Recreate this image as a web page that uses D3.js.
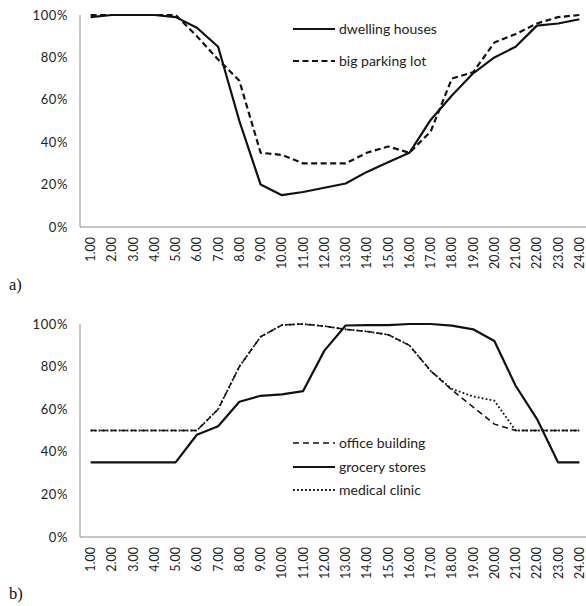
<!DOCTYPE html>
<html>
<head>
<meta charset="utf-8">
<script src="https://cdn.jsdelivr.net/npm/d3@7"></script>
<style>
  html, body { margin: 0; padding: 0; background: #fff; }
  svg { display: block; }
</style>
</head>
<body>
<svg id="chart" width="586" height="606"></svg>
<script>
// Hours of the day (category axis)
const hours = ["1.00","2.00","3.00","4.00","5.00","6.00","7.00","8.00","9.00","10.00","11.00","12.00",
               "13.00","14.00","15.00","16.00","17.00","18.00","19.00","20.00","21.00","22.00","23.00","24.00"];
const yTicks = [0, 20, 40, 60, 80, 100];

// Panel a) occupancy (%)
const dwellingHouses = [99,100,100,100,99,94,85,50,20,15,16.5,18.5,20.5,26,30.5,35,50.5,62,72.5,80,85,95,96,98];
const bigParkingLot  = [100,100,100,100,100,90,79,69,35,34,30,30,30,35,38,35,45,70,73,87,91,96,99,100];

// Panel b) occupancy (%)
const officeBuilding = [50,50,50,50,50,50,60,80,94,99.5,100,99,97.5,96.5,95,90,78,69,61,53,50,50,50,50];
const groceryStores  = [35,35,35,35,35,48,52,63.5,66.3,67,68.5,87.5,99.3,99.5,99.5,100,100,99.2,97.5,92,71,55.5,35,35];
const medicalClinic  = [50,50,50,50,50,50,60,80,94,99.5,100,99,97.5,96.5,95,90,78,69.5,66,64,50,50,50,50];

const svg = d3.select("#chart");
const FONT = "Lato, 'Open Sans', sans-serif";

function panel(cfg) {
  const x = d3.scalePoint().domain(hours).range([80, 590]).padding(0.5);
  const y = d3.scaleLinear().domain([0, 100]).range([cfg.bottom, cfg.top]);
  const g = svg.append("g");

  // axis lines
  g.append("line").attr("x1", 80).attr("x2", 80).attr("y1", cfg.top).attr("y2", cfg.bottom)
    .attr("stroke", "#8c8c8c").attr("stroke-width", 1);
  g.append("line").attr("x1", 80).attr("x2", 590).attr("y1", cfg.bottom).attr("y2", cfg.bottom)
    .attr("stroke", "#8c8c8c").attr("stroke-width", 1);

  // y tick labels
  g.selectAll(".yl").data(yTicks).enter().append("text")
    .attr("x", 68).attr("y", d => y(d) + 4.5)
    .attr("text-anchor", "end").attr("font-family", FONT).attr("font-size", 13)
    .attr("letter-spacing", 0.6).attr("fill", "#222")
    .text(d => d + "%");

  // x tick labels (rotated)
  g.selectAll(".xl").data(hours).enter().append("text")
    .attr("transform", d => `translate(${x(d) + 4.5},${cfg.bottom + 10}) rotate(-90)`)
    .attr("text-anchor", "end").attr("font-family", FONT).attr("font-size", 12.5).attr("fill", "#222")
    .text(d => d);

  const line = d3.line().x((d, i) => x(hours[i])).y(d => y(d));

  cfg.series.forEach(s => {
    g.append("path").datum(s.values).attr("d", line)
      .attr("fill", "none").attr("stroke", "#111").attr("stroke-width", s.width)
      .attr("stroke-dasharray", s.dash || null).attr("stroke-linejoin", "round");
  });

  // legend
  cfg.series.forEach((s, i) => {
    const ly = cfg.legendY[i];
    g.append("line").attr("x1", 293).attr("x2", 335).attr("y1", ly).attr("y2", ly)
      .attr("stroke", "#111").attr("stroke-width", s.width).attr("stroke-dasharray", s.dash || null);
    g.append("text").attr("x", 339).attr("y", ly + 5)
      .attr("font-family", FONT).attr("font-size", 14).attr("fill", "#222").text(s.name);
  });

  // panel letter
  svg.append("text").attr("x", 9).attr("y", cfg.letterY)
    .attr("font-family", "'Liberation Serif', 'DejaVu Serif', serif").attr("font-size", 16.5).attr("fill", "#111")
    .text(cfg.letter);
}

panel({
  top: 15, bottom: 227, letter: "a)", letterY: 290, legendY: [29, 61],
  series: [
    { name: "dwelling houses", values: dwellingHouses, width: 2.2 },
    { name: "big parking lot", values: bigParkingLot, width: 2.2, dash: "6,3.5" }
  ]
});

panel({
  top: 324, bottom: 537, letter: "b)", letterY: 599, legendY: [443, 467, 490],
  series: [
    { name: "office building", values: officeBuilding, width: 1.5, dash: "6,4" },
    { name: "grocery stores", values: groceryStores, width: 2.2 },
    { name: "medical clinic", values: medicalClinic, width: 1.8, dash: "1.8,2.2" }
  ]
});
</script>
</body>
</html>
